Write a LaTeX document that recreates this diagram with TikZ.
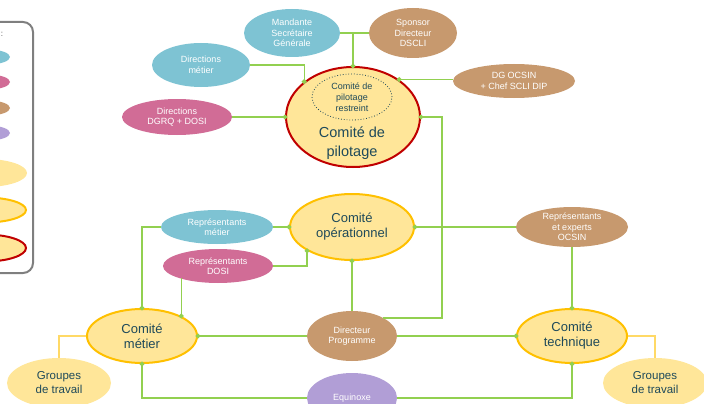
\documentclass[tikz,border=0pt]{standalone}
\usepackage{fontspec}
\setmainfont{Liberation Sans}
\usetikzlibrary{shapes.geometric}
\definecolor{cbleu}{HTML}{7EC3D3}
\definecolor{crose}{HTML}{D16C96}
\definecolor{cbrun}{HTML}{C7996E}
\definecolor{cmauve}{HTML}{B19ED6}
\definecolor{cjaune}{HTML}{FFE699}
\definecolor{cjauned}{HTML}{FFD966}
\definecolor{corange}{HTML}{FFC000}
\definecolor{crouge}{HTML}{C00000}
\definecolor{cvert}{HTML}{92D050}
\definecolor{ctexte}{HTML}{1F4A5A}
\definecolor{cgris}{HTML}{7F7F7F}
\begin{document}
\begin{tikzpicture}[x=1pt, y=-1pt,
    ell/.style={ellipse, inner sep=0pt, align=center, text=white, font=\fontsize{9}{10.5}\selectfont},
    bleu/.style={ell, fill=cbleu},
    rose/.style={ell, fill=crose},
    brun/.style={ell, fill=cbrun},
    mauve/.style={ell, fill=cmauve},
    comite/.style={ellipse, inner sep=0pt, align=center, fill=cjaune, draw=corange, line width=2pt,
      text=ctexte, font=\fontsize{13}{15}\selectfont},
    groupe/.style={ellipse, inner sep=0pt, align=center, fill=cjaune, text=ctexte, font=\fontsize{11.5}{14}\selectfont},
    lien/.style={cvert, line width=1.3pt},
    lienj/.style={cjauned, line width=1.3pt},
    gdot/.style={diamond, fill=cvert, inner sep=0pt, minimum size=5.5pt}]
  \useasboundingbox (0,0) rectangle (704,404);
  % legend, cut by the left edge
  \draw[cgris, line width=2pt, rounded corners=10pt] (-30,22) rectangle (33,273);
  \node[text=cgris!60!black, font=\fontsize{8}{8}\selectfont] (legtit) at (2,34) {:};
  \node[bleu, minimum width=44, minimum height=15] (leg1) at (-12,57) {};
  \node[rose, minimum width=44, minimum height=15] (leg2) at (-12,82) {};
  \node[brun, minimum width=44, minimum height=15] (leg3) at (-12,108) {};
  \node[mauve, minimum width=44, minimum height=15] (leg4) at (-12,133) {};
  \node[groupe, minimum width=84, minimum height=28] (leg5) at (-15,173) {};
  \node[comite, minimum width=82, minimum height=25] (leg6) at (-15,210) {};
  \node[comite, draw=crouge, minimum width=82, minimum height=27] (leg7) at (-15,248) {};
  % comite de pilotage and its members
  \node[bleu, minimum width=96, minimum height=48] (mand) at (292,33) {Mandante\\Secrétaire\\Générale};
  \node[brun, minimum width=88, minimum height=50] (spon) at (413,33) {Sponsor\\Directeur\\DSCLI};
  \node[bleu, minimum width=98, minimum height=44] (dirm) at (201,65) {Directions\\métier};
  \node[rose, minimum width=110, minimum height=36] (dirq) at (177,117) {Directions\\DGRQ + DOSI};
  \node[brun, minimum width=122, minimum height=34] (dgo) at (514,81) {DG OCSIN\\+ Chef SCLI DIP};
  \node[comite, draw=crouge, minimum width=134, minimum height=100] (copil) at (353,117) {};
  \node[ellipse, draw=ctexte, dotted, line width=0.8pt, minimum width=80, minimum height=46, inner sep=0pt,
    align=center, text=ctexte, font=\fontsize{9}{11}\selectfont] (restr) at (352,97) {Comité de\\pilotage\\restreint};
  \node[text=ctexte, align=center, font=\fontsize{14.5}{19}\selectfont] (copiltxt) at (352,143) {Comité de\\pilotage};
  % comite operationnel
  \node[comite, minimum width=124, minimum height=66] (copo) at (352,227) {Comité\\opérationnel};
  \node[bleu, minimum width=112, minimum height=34] (rmet) at (217,227) {Représentants\\métier};
  \node[rose, minimum width=110, minimum height=34] (rdos) at (218,266) {Représentants\\DOSI};
  \node[brun, minimum width=112, minimum height=40] (rocs) at (572,227) {Représentants\\et experts\\OCSIN};
  % bottom row
  \node[comite, minimum width=110, minimum height=54] (cmet) at (142,336) {Comité\\métier};
  \node[comite, minimum width=110, minimum height=54] (ctec) at (572,336) {Comité\\technique};
  \node[brun, minimum width=90, minimum height=50] (dirp) at (352,336) {Directeur\\Programme};
  \node[mauve, minimum width=90, minimum height=50] (equi) at (352,398) {Equinoxe};
  \node[groupe, minimum width=104, minimum height=50] (grp1) at (59,383) {Groupes\\de travail};
  \node[groupe, minimum width=104, minimum height=50] (grp2) at (655,383) {Groupes\\de travail};
  % links
  \draw[lien] (mand.east) -- (spon.west);
  \draw[lien] (copil.north) -- (copil.north |- mand.east);
  \draw[lien] (dirm.east) -| (copil.144);
  \draw[lien] (dirq.east) -- (copil.west);
  \draw[lien] (copil.39) -- (copil.39 -| dgo.west);
  \draw[lien] (copil.east) -- ++(21,0) |- (dirp.30);
  \draw[lien] (rmet.east) -- (rmet.east -| copo.west);
  \draw[lien] (rdos.east) -| (copo.208);
  \draw[lien] (copo.east) -- (copo.east -| rocs.west);
  \draw[lien] (copo.south) -- (dirp.north);
  \draw[lien] (rmet.west) -| (cmet.north);
  \draw[lien] (cmet.27 |- rdos.198) -- (cmet.27);
  \draw[lien] (rocs.south) -- (ctec.north);
  \draw[lien] (cmet.east) -- (dirp.west);
  \draw[lien] (dirp.east) -- (ctec.west);
  \draw[lien] (cmet.south) |- (equi.west);
  \draw[lien] (equi.east) -| (ctec.south);
  \draw[lienj] (cmet.west) -| (grp1.north);
  \draw[lienj] (ctec.east) -| (grp2.north);
  % joints
  \foreach \p [count=\i] in {copil.north, copil.144, copil.west, copil.39, copil.east,
      copo.west, copo.208, copo.east, copo.south, cmet.north, cmet.27, cmet.east, cmet.south,
      ctec.north, ctec.west, ctec.south}
    \node[gdot] (j\i) at (\p) {};
\end{tikzpicture}
\end{document}
